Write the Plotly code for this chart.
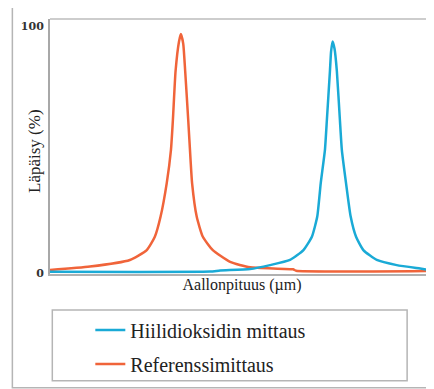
import plotly.graph_objects as go

# Wavelength axis (arbitrary units, no tick labels in original)
ref_x = [0, 10.4, 20.8, 25.2, 27.3, 28.8, 30.4, 31.5, 32.0, 32.7, 33.6, 34.1, 34.7, 35.2, 36.0, 36.6, 37.0, 38.2, 39.8, 42.4, 46.9, 52.1, 63.3, 64.1, 100]
ref_y = [1.2, 2.6, 5.3, 9.3, 14.7, 22.9, 36.5, 50, 62, 82, 94, 97, 93, 82, 62, 46, 36.5, 22.9, 14.7, 9.3, 4.5, 2.3, 1.5, 0.9, 0.9]

co2_x = [0, 41.7, 44.3, 52.1, 57.3, 62.5, 66.0, 68.2, 69.6, 70.5, 71.6, 72.1, 72.9, 73.2, 73.6, 74.1, 74.7, 75.5, 76.0, 77.1, 78.3, 79.7, 81.6, 85.1, 90.3, 96.4, 100]
co2_y = [0.5, 0.6, 1.0, 1.6, 3.2, 5.3, 9.3, 14.7, 22.9, 36.4, 50, 62, 82, 90, 94, 91, 82, 62, 50, 36.4, 22.9, 14.7, 9.3, 5.3, 3.2, 1.8, 1.0]

series_names = ["Hiilidioksidin mittaus", "Referenssimittaus"]
y_tick_vals = [0, 100]
y_tick_text = ["0", "100"]
x_title = "Aallonpituus (µm)"
y_title = "Läpäisy (%)"

BLUE = "#1aaad6"
ORANGE = "#f0643a"

fig = go.Figure()
fig.add_trace(go.Scatter(x=ref_x, y=ref_y, mode="lines", name=series_names[1],
                         line=dict(color=ORANGE, width=2.5, shape="spline", smoothing=0.5),
                         legendgroup="b", legendrank=2))
fig.add_trace(go.Scatter(x=co2_x, y=co2_y, mode="lines", name=series_names[0],
                         line=dict(color=BLUE, width=2.5, shape="spline", smoothing=0.5),
                         legendgroup="a", legendrank=1))

serif = "'Liberation Serif', 'DejaVu Serif', serif"

# page has an 8px body margin; plot area spans page x 50..434, y 19..274
fig.update_layout(
    width=434, height=389,
    margin=dict(l=42, r=8, t=11, b=123, autoexpand=False),
    paper_bgcolor="white", plot_bgcolor="white",
    showlegend=True,
    legend=dict(x=0.105, y=-0.143, xanchor="left", yanchor="top",
                font=dict(family=serif, size=20, color="#222"),
                bgcolor="rgba(0,0,0,0)", tracegroupgap=5, traceorder="grouped"),
    xaxis=dict(range=[0, 100], showticklabels=False, showgrid=False, zeroline=False,
               showline=True, linecolor="#b0b0b0", linewidth=1.5, ticks="",
               title=dict(text=x_title, font=dict(family=serif, size=16, color="#222"),
                          standoff=4)),
    yaxis=dict(range=[-0.4, 103.1], tickvals=y_tick_vals, ticktext=y_tick_text,
               showgrid=False, zeroline=False, showline=True, linecolor="#a8a8a8", linewidth=2,
               ticks="", ticklabelstandoff=2,
               tickfont=dict(family="DejaVu Serif", size=11, color="#333", weight="bold")),
    annotations=[
        dict(text=y_title, textangle=-90, xref="paper", yref="paper",
             x=-0.042, y=0.482, xanchor="center", yanchor="middle", showarrow=False,
             font=dict(family=serif, size=17, color="#222")),
    ],
    shapes=[
        # top border of plot area
        dict(type="line", xref="paper", yref="paper", x0=0, x1=1.03, y0=1, y1=1,
             line=dict(color="#bdbdbd", width=1.5)),
        # outer frame
        dict(type="rect", xref="paper", yref="paper", x0=-0.098, x1=1.04, y0=-0.446, y1=1.047,
             line=dict(color="#b5b5b5", width=1.5), layer="below"),
        # legend box
        dict(type="rect", xref="paper", yref="paper", x0=0.006, x1=0.930, y0=-0.419, y1=-0.141,
             line=dict(color="#b5b5b5", width=1.5)),
    ],
)

fig.write_html("out.html")
